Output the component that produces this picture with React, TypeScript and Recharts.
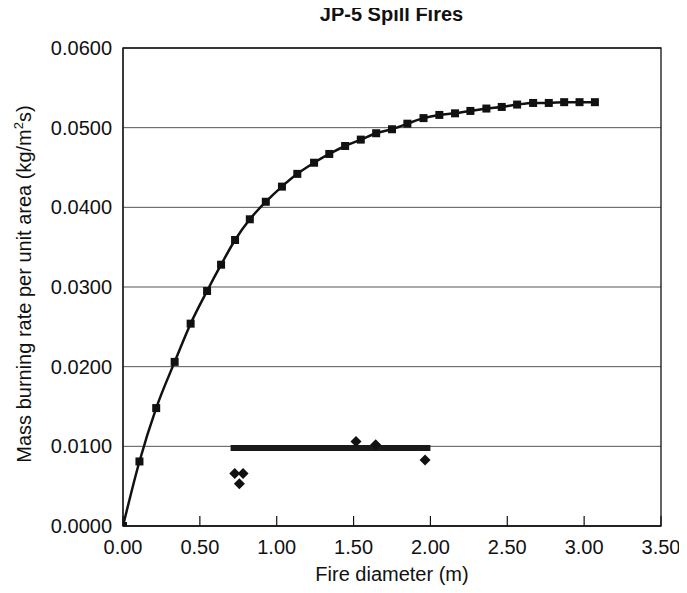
import {
  ScatterChart,
  Scatter,
  XAxis,
  YAxis,
  CartesianGrid,
  ReferenceArea,
} from "recharts";

// model curve (squares joined by a smooth line)
const curveDiameter = [
  0, 0.107, 0.216, 0.336, 0.44, 0.547, 0.638, 0.729, 0.825, 0.929, 1.034, 1.134,
  1.243, 1.342, 1.445, 1.547, 1.647, 1.75, 1.85, 1.955, 2.058, 2.16, 2.26, 2.364,
  2.464, 2.564, 2.668, 2.77, 2.87, 2.97, 3.07,
];
const curveRate = [
  0, 0.0081, 0.0148, 0.0206, 0.0254, 0.0295, 0.0328, 0.0359, 0.0385, 0.0407,
  0.0426, 0.0442, 0.0456, 0.0467, 0.0477, 0.0485, 0.0493, 0.0498, 0.0505, 0.0512,
  0.0516, 0.0518, 0.0521, 0.0524, 0.0526, 0.0529, 0.0531, 0.0531, 0.0532, 0.0532,
  0.0532,
];

// measured points (diamonds)
const testDiameter = [0.727, 0.781, 0.757, 1.516, 1.644, 1.965];
const testRate = [0.0066, 0.0066, 0.0053, 0.0106, 0.0102, 0.0083];

// average of the tests (thick bar)
const avgDiameter = [0.7, 2.0];
const avgRate = [0.0098, 0.0098];

const xTicks = [0, 0.5, 1, 1.5, 2, 2.5, 3, 3.5];
const yTicks = [0, 0.01, 0.02, 0.03, 0.04, 0.05, 0.06];

const curveData = curveDiameter.map((d, i) => ({ x: d, y: curveRate[i] }));
const testData = testDiameter.map((d, i) => ({ x: d, y: testRate[i] }));
const avgData = avgDiameter.map((d, i) => ({ x: d, y: avgRate[i] }));

const FONT = '"Liberation Sans", Arial, sans-serif';
const INK = "#111";

const Square = (props: any) => (
  <rect x={props.cx - 4} y={props.cy - 4} width={8} height={8} fill={INK} />
);

const Diamond = (props: any) => {
  const { cx, cy } = props;
  return (
    <polygon
      points={`${cx},${cy - 5.5} ${cx + 5.5},${cy} ${cx},${cy + 5.5} ${cx - 5.5},${cy}`}
      fill={INK}
    />
  );
};

const NoDot = () => <g />;

// x tick: label below the axis, tick mark pointing up into the plot
const XTick = (props: any) => {
  const { x, y, payload } = props;
  const axisY = y - 14;
  return (
    <g>
      <line x1={x} x2={x} y1={axisY} y2={axisY - 10} stroke={INK} strokeWidth={1.2} />
      <text x={x} y={y + 14} textAnchor="middle" fill={INK} fontSize={20} fontFamily={FONT}>
        {payload.value.toFixed(2)}
      </text>
    </g>
  );
};

export default function App() {
  return (
    <div style={{ position: "relative", width: 679, height: 577, fontFamily: FONT }}>
      <ScatterChart
        width={679}
        height={577}
        margin={{ top: 40, right: 26, bottom: 0, left: 15 }}
      >
        <CartesianGrid vertical={false} stroke="#555" strokeWidth={1} />
        <XAxis
          type="number"
          dataKey="x"
          domain={[0, 3.5]}
          ticks={xTicks}
          height={59}
          tickSize={0}
          tickMargin={14}
          tickLine={false}
          stroke={INK}
          tick={XTick}
          allowDataOverflow
        />
        <YAxis
          type="number"
          dataKey="y"
          domain={[0, 0.06]}
          ticks={yTicks}
          tickFormatter={(v: number) => v.toFixed(4)}
          width={100}
          tickSize={0}
          tickMargin={11}
          stroke={INK}
          tick={{ fill: INK, fontSize: 20, fontFamily: FONT }}
          allowDataOverflow
        />
        <ReferenceArea
          x1={0}
          x2={3.5}
          y1={0}
          y2={0.06}
          fill="none"
          stroke={INK}
          strokeWidth={1.3}
        />
        <Scatter
          data={curveData}
          line={{ stroke: INK, strokeWidth: 2.5 }}
          lineJointType="monotoneX"
          shape={Square}
          isAnimationActive={false}
        />
        <Scatter
          data={avgData}
          line={{ stroke: "#1a1a1a", strokeWidth: 6 }}
          shape={NoDot}
          isAnimationActive={false}
        />
        <Scatter data={testData} shape={Diamond} isAnimationActive={false} />
      </ScatterChart>

      <div
        style={{
          position: "absolute",
          zIndex: 2,
          left: 0,
          width: 767,
          top: -4,
          textAlign: "center",
          fontSize: 20,
          lineHeight: "20px",
          fontWeight: 700,
          color: INK,
        }}
      >
        JP-5 Spill Fires
      </div>
      <div
        style={{
          position: "absolute",
          left: 184,
          width: 400,
          top: 556,
          textAlign: "center",
          fontSize: 20,
          lineHeight: "20px",
          color: INK,
        }}
      >
        Fire diameter (m)
      </div>
      <div
        style={{
          position: "absolute",
          left: 16 - 220,
          width: 440,
          top: 276 - 10,
          textAlign: "center",
          fontSize: 20,
          lineHeight: "20px",
          color: INK,
          transform: "rotate(-90deg)",
        }}
      >
        Mass burning rate per unit area (kg/m<sup style={{ fontSize: 13, lineHeight: 0 }}>2</sup>s)
      </div>
    </div>
  );
}
